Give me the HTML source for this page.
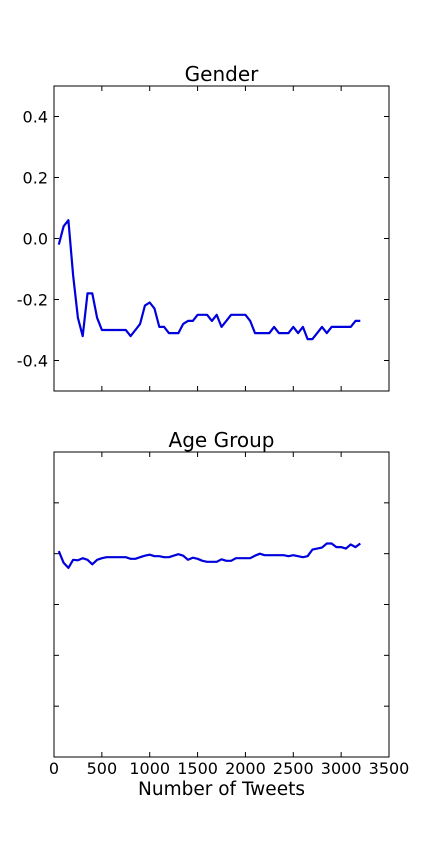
<!DOCTYPE html>
<html><head><meta charset="utf-8"><style>
html,body{margin:0;padding:0;background:#fff;}
svg{display:block;font-family:"DejaVu Sans","Liberation Sans",sans-serif;}
</style></head><body>
<svg id="c" width="432" height="864"></svg>
<script>
const tweets=[];for(let i=1;i<=64;i++)tweets.push(i*50);
const genderValues=[-0.02,0.04,0.06,-0.12,-0.26,-0.32,-0.18,-0.18,-0.26,-0.30,-0.30,-0.30,-0.30,-0.30,-0.30,-0.32,-0.30,-0.28,-0.22,-0.21,-0.23,-0.29,-0.29,-0.31,-0.31,-0.31,-0.28,-0.27,-0.27,-0.25,-0.25,-0.25,-0.27,-0.25,-0.29,-0.27,-0.25,-0.25,-0.25,-0.25,-0.27,-0.31,-0.31,-0.31,-0.31,-0.29,-0.31,-0.31,-0.31,-0.29,-0.31,-0.29,-0.33,-0.33,-0.31,-0.29,-0.31,-0.29,-0.29,-0.29,-0.29,-0.29,-0.27,-0.27];
const ageValues=[1.05,0.82,0.72,0.88,0.87,0.91,0.88,0.79,0.88,0.91,0.93,0.93,0.93,0.93,0.93,0.90,0.90,0.93,0.96,0.98,0.95,0.95,0.93,0.93,0.96,0.99,0.96,0.88,0.92,0.90,0.86,0.84,0.84,0.84,0.89,0.86,0.86,0.91,0.91,0.91,0.91,0.96,1.0,0.97,0.97,0.97,0.97,0.97,0.95,0.97,0.95,0.93,0.95,1.08,1.10,1.12,1.20,1.20,1.13,1.13,1.10,1.18,1.13,1.20];
const xTicks=[0,500,1000,1500,2000,2500,3000,3500];
const genderTicks=[-0.4,-0.2,0.0,0.2,0.4];
const genderTickLabels=["-0.4","-0.2","0.0","0.2","0.4"];
const ageTicks=[-2,-1,0,1,2];

const NS="http://www.w3.org/2000/svg";
const svg=document.getElementById('c');
function mk(tag,attrs,parent){const e=document.createElementNS(NS,tag);for(const k in attrs)e.setAttribute(k,attrs[k]);(parent||svg).appendChild(e);return e;}
const L=54,R=389;
const xS=v=>L+(v/3500)*(R-L);

function panel(top,bot,ymin,ymax,yt,ylab,vals,title,name){
  const yS=v=>bot-(v-ymin)/(ymax-ymin)*(bot-top);
  const g=mk('g',{});
  
  
  const t=mk('text',{x:(L+R)/2,y:top-5,'text-anchor':'middle','font-size':20},g);
  t.textContent=title;
  
  
  yt.forEach((v,i)=>{
    const y=yS(v);
    const a=mk('line',{x1:L,x2:L+5,y1:y,y2:y,stroke:'#000'},g);
    
    
    mk('line',{x1:R-5,x2:R,y1:y,y2:y,stroke:'#000'},g);
    if(ylab){const tx=mk('text',{x:L-6,y:y+6,'text-anchor':'end','font-size':16},g);tx.textContent=ylab[i];
      
      }
  });
  xTicks.forEach(v=>{const x=xS(v);mk('line',{x1:x,x2:x,y1:bot,y2:bot-5,stroke:'#000'},g);mk('line',{x1:x,x2:x,y1:top,y2:top+5,stroke:'#000'},g);});
  const d=tweets.map((t,i)=>(i?'L':'M')+xS(t).toFixed(1)+','+yS(vals[i]).toFixed(1)).join(' ');
  const p=mk('path',{d:d,fill:'none',stroke:'#0000dd','stroke-width':2.2,'stroke-linejoin':'round'},g);
  
  
  const b=mk('rect',{x:L,y:top,width:R-L,height:bot-top,fill:'none',stroke:'#000','stroke-width':1},g);
  
  
}
panel(86,391,-0.5,0.5,genderTicks,genderTickLabels,genderValues,'Gender','gender');
panel(452,757,-3,3,ageTicks,null,ageValues,'Age Group','age-group');
xTicks.forEach(v=>{const t=mk('text',{x:xS(v),y:774,'text-anchor':'middle','font-size':16});t.textContent=v;
  
  });
const xl=mk('text',{x:(L+R)/2,y:795,'text-anchor':'middle','font-size':18.5});
xl.textContent='Number of Tweets';


</script>
</body></html>
